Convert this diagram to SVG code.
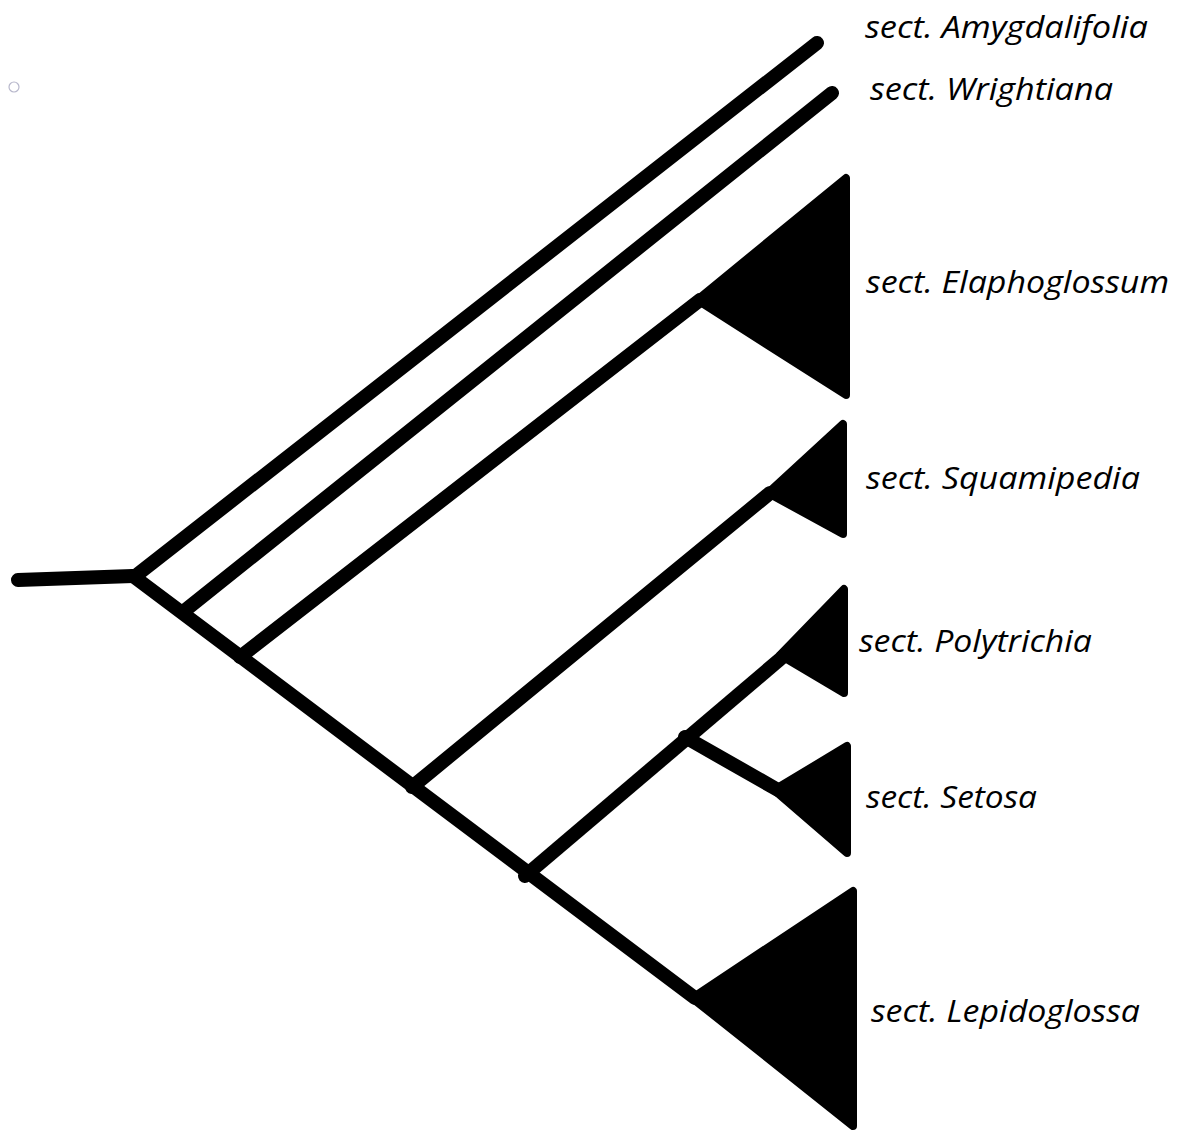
<svg xmlns="http://www.w3.org/2000/svg" width="1180" height="1132" viewBox="0 0 1180 1132">
<style>
.br{stroke:#000;stroke-width:14;stroke-linecap:round;stroke-linejoin:round;fill:none}
.tri{fill:#000;stroke:#000;stroke-width:8;stroke-linejoin:round}
.lbl{font-family:"Open Sans","Liberation Sans",sans-serif;font-style:italic;font-size:31px;fill:#000}
</style>
<rect width="1180" height="1132" fill="#fff"/>
<circle cx="14" cy="87" r="5" fill="none" stroke="#b8b8cc" stroke-width="1.2"/>
<g id="connectors">
<path class="br" d="M18,580 L133,576"/>
<path class="br" d="M133,576 L695,998"/>
<path class="br" d="M138,574 L817,43"/>
<path class="br" d="M183,612 L832,93"/>
<path class="br" d="M240,657 L700,300"/>
<path class="br" d="M412,787 L770,493"/>
<path class="br" d="M525,876 L785,655"/>
<path class="br" d="M685,737 L778,790"/>
</g>
<g id="n-elaphoglossum"><polygon class="tri" points="697,300 846,178 846,395"/><text class="lbl" x="866" y="293" textLength="303" lengthAdjust="spacingAndGlyphs">sect. Elaphoglossum</text></g>
<g id="n-squamipedia"><polygon class="tri" points="768,493 843,424 843,534"/><text class="lbl" x="866" y="489" textLength="274" lengthAdjust="spacingAndGlyphs">sect. Squamipedia</text></g>
<g id="n-polytrichia"><polygon class="tri" points="780,655 844,589 844,693"/><text class="lbl" x="859" y="652" textLength="233" lengthAdjust="spacingAndGlyphs">sect. Polytrichia</text></g>
<g id="n-setosa"><polygon class="tri" points="774,790 847,746 847,853"/><text class="lbl" x="866" y="808" textLength="171" lengthAdjust="spacingAndGlyphs">sect. Setosa</text></g>
<g id="n-lepidoglossa"><polygon class="tri" points="692,998 853,891 853,1126"/><text class="lbl" x="871" y="1022" textLength="269" lengthAdjust="spacingAndGlyphs">sect. Lepidoglossa</text></g>
<g id="n-amygdalifolia"><text class="lbl" x="865" y="38" textLength="283" lengthAdjust="spacingAndGlyphs">sect. Amygdalifolia</text></g>
<g id="n-wrightiana"><text class="lbl" x="870" y="100" textLength="243" lengthAdjust="spacingAndGlyphs">sect. Wrightiana</text></g>
</svg>
